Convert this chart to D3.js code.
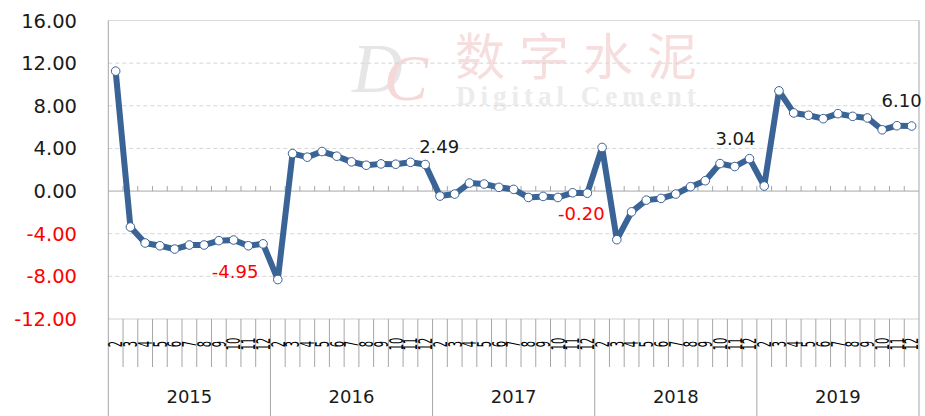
<!DOCTYPE html>
<html>
<head>
<meta charset="utf-8">
<script src="https://cdn.jsdelivr.net/npm/d3@7"></script>
<style>
  body { margin: 0; background: #fff; }
  text { font-family: "DejaVu Sans", sans-serif; }
</style>
</head>
<body>
<div id="chart"></div>
<script>
// data (growth %, Jan-Feb merged into "2")
var years = ["2015", "2016", "2017", "2018", "2019"];
var months = ["2", "3", "4", "5", "6", "7", "8", "9", "10", "11", "12"];
var values2015 = [11.25, -3.37, -4.87, -5.13, -5.44, -5.06, -5.06, -4.65, -4.59, -5.13, -4.95];
var values2016 = [-8.30, 3.52, 3.18, 3.71, 3.27, 2.74, 2.42, 2.55, 2.52, 2.70, 2.49];
var values2017 = [-0.47, -0.28, 0.75, 0.66, 0.35, 0.16, -0.60, -0.50, -0.60, -0.16, -0.20];
var values2018 = [4.09, -4.56, -1.95, -0.85, -0.69, -0.28, 0.41, 0.97, 2.58, 2.30, 3.04];
var values2019 = [0.47, 9.40, 7.33, 7.11, 6.79, 7.26, 7.01, 6.86, 5.75, 6.13, 6.10];
var yTicks = [-12, -8, -4, 0, 4, 8, 12, 16];

var W = 925, H = 416;
var pad = {left: 108.3, right: 919, top: 20.5, bottom: 319};
var blue = "#3a6396";

// plain hyphen for negatives, like the original
var fmt = d3.formatLocale({decimal: ".", thousands: ",", grouping: [3], currency: ["", ""], minus: "-"}).format(".2f");

var svg = d3.select("#chart").append("svg")
    .attr("width", W)
    .attr("height", H);

// flatten years x months into one series
var allValues = [values2015, values2016, values2017, values2018, values2019];
var data = [];
years.forEach(function(yr, i) {
  months.forEach(function(m, j) {
    data.push({key: yr + "-" + m, year: yr, month: m, value: allValues[i][j], last: j == months.length - 1});
  });
});

var x = d3.scaleBand()
    .domain(data.map(function(d) { return d.key; }))
    .range([pad.left, pad.right])
    .paddingInner(0).paddingOuter(0);
var bw = x.bandwidth();
var cx = function(d) { return x(d.key) + bw / 2; };

var y = d3.scaleLinear().domain([-12, 16]).range([pad.bottom, pad.top]);

// watermark
var wm = svg.append("g");
wm.append("text").attr("x", 352).attr("y", 92)
  .style("font-family", "Liberation Serif, serif").style("font-style", "italic")
  .style("font-size", "70px").style("fill", "#e6e6e6").text("D");
wm.append("text").attr("x", 384).attr("y", 100)
  .style("font-family", "Liberation Serif, serif").style("font-style", "italic")
  .style("font-size", "66px").style("fill", "#f5d9d9").text("C");
wm.append("text").attr("x", 455).attr("y", 75)
  .style("font-family", "Noto Sans CJK SC").style("font-size", "50px")
  .style("letter-spacing", "14px").style("fill", "#f7dede").text("数字水泥");
wm.append("text").attr("x", 456).attr("y", 105)
  .style("font-family", "Liberation Serif, serif").style("font-weight", "bold")
  .style("font-size", "27px").style("letter-spacing", "5px").style("fill", "#ececec").text("Digital Cement");

// gridlines
svg.append("g").selectAll("line")
  .data(yTicks.filter(function(t) { return t != 0 && t != -12 && t != 16; }))
  .enter().append("line")
    .attr("x1", pad.left).attr("x2", pad.right)
    .attr("y1", function(d) { return y(d); }).attr("y2", function(d) { return y(d); })
    .style("stroke", "#d6d6d6").style("stroke-dasharray", "4,3");

// frame
svg.append("line").attr("x1", pad.left).attr("x2", pad.right).attr("y1", y(16)).attr("y2", y(16))
  .style("stroke", "#d9d9d9");
svg.append("line").attr("x1", pad.left).attr("x2", pad.right).attr("y1", y(-12)).attr("y2", y(-12))
  .style("stroke", "#d0d0d0");
svg.append("line").attr("x1", pad.right).attr("x2", pad.right).attr("y1", pad.top).attr("y2", H)
  .style("stroke", "#a6a6a6");
svg.append("line").attr("x1", pad.left).attr("x2", pad.left).attr("y1", pad.top).attr("y2", H)
  .style("stroke", "#a6a6a6");

// y labels
svg.append("g").selectAll("text")
  .data(yTicks).enter().append("text")
    .attr("x", 77)
    .attr("y", function(d) { return y(d); })
    .attr("dy", "0.36em")
    .attr("text-anchor", "end")
    .style("font-size", "19.5px")
    .style("fill", function(d) { return d < 0 ? "#ff0000" : "#1a1a1a"; })
    .text(function(d) { return fmt(d); });

// zero axis with small ticks
svg.append("line").attr("x1", pad.left).attr("x2", pad.right).attr("y1", y(0)).attr("y2", y(0))
  .style("stroke", "#a6a6a6");
svg.append("g").selectAll("line")
  .data(data.slice(1)).enter().append("line")
    .attr("x1", function(d) { return x(d.key); }).attr("x2", function(d) { return x(d.key); })
    .attr("y1", y(0) - 5).attr("y2", y(0))
    .style("stroke", "#a6a6a6");

// category axis: month ticks + labels
svg.append("g").selectAll("line")
  .data(data.slice(1)).enter().append("line")
    .attr("x1", function(d) { return x(d.key); }).attr("x2", function(d) { return x(d.key); })
    .attr("y1", pad.bottom).attr("y2", function(d) { return d.month == "2" ? H : 367; })
    .style("stroke", "#a6a6a6");

svg.append("g").selectAll("text")
  .data(data).enter().append("text")
    .attr("transform", function(d) { return "translate(" + cx(d) + "," + 344 + ") rotate(-90) scale(0.55,1.05)"; })
    .attr("text-anchor", "middle")
    .attr("dy", "0.36em")
    .style("font-size", "18px")
    .style("fill", "#000")
    .text(function(d) { return d.month; });

// year labels
svg.append("g").selectAll("text")
  .data(years).enter().append("text")
    .attr("x", function(yr) { return x(yr + "-2") + bw * months.length / 2; })
    .attr("y", 403)
    .attr("text-anchor", "middle")
    .style("font-size", "18px")
    .style("fill", "#1a1a1a")
    .text(function(yr) { return yr; });

// the line
var line = d3.line()
    .x(cx)
    .y(function(d) { return y(d.value); });

svg.append("path")
  .datum(data)
  .attr("d", line)
  .style("fill", "none")
  .style("stroke", blue)
  .style("stroke-width", 6)
  .style("stroke-linejoin", "round");

svg.append("g").selectAll("circle")
  .data(data).enter().append("circle")
    .attr("cx", cx)
    .attr("cy", function(d) { return y(d.value); })
    .attr("r", 4.3)
    .style("fill", "#fff")
    .style("stroke", blue)
    .style("stroke-width", 1);

// December value labels, nudged by hand like in the original
var labelOffsets = [[-28, 34], [14, -12], [-6, 27], [-14, -14], [-10, -19]];
svg.append("g").selectAll("text")
  .data(data.filter(function(d) { return d.last; })).enter().append("text")
    .attr("x", function(d, i) { return cx(d) + labelOffsets[i][0]; })
    .attr("y", function(d, i) { return y(d.value) + labelOffsets[i][1]; })
    .attr("text-anchor", "middle")
    .style("font-size", "18px")
    .style("fill", function(d) { return d.value < 0 ? "#ff0000" : "#1a1a1a"; })
    .text(function(d) { return fmt(d.value); });
</script>
</body>
</html>
